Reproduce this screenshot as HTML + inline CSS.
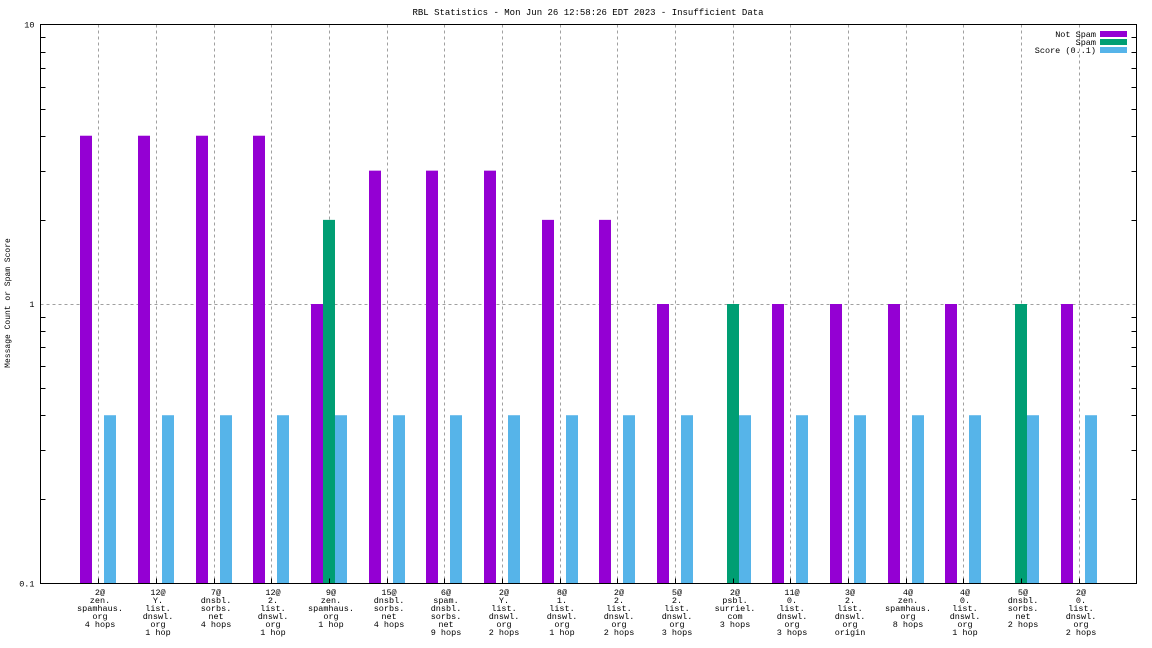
<!DOCTYPE html>
<html><head><meta charset="utf-8">
<style>
html,body{margin:0;padding:0;background:#fff;}
svg{display:block;font-family:"Liberation Mono",monospace;}
</style></head>
<body>
<svg id="chart" width="1152" height="648" xmlns="http://www.w3.org/2000/svg">
<text x="588" y="15" font-size="9" text-anchor="middle">RBL Statistics - Mon Jun 26 12:58:26 EDT 2023 - Insufficient Data</text>
<text transform="translate(10,303) rotate(-90)" font-size="8" text-anchor="middle">Message Count or Spam Score</text>
<g id="grid"></g>
<g id="bars"></g>
<g id="axes"></g>
<g id="xlabels" font-size="8.5" text-anchor="middle"></g>
<g id="legend" font-size="8.5" text-anchor="end">
<text x="1096" y="37">Not Spam</text>
<rect x="1100" y="31" width="27" height="6" fill="#9400d3"/>
<text x="1096" y="45">Spam</text>
<rect x="1100" y="39" width="27" height="6" fill="#009e73"/>
<text x="1096" y="53">Score (0..1)</text>
<rect x="1100" y="47" width="27" height="6" fill="#56b4e9"/>
</g>
</svg>
<script>
const categories = [
 ["2@","zen.","spamhaus.","org","4 hops"],
 ["12@","Y.","list.","dnswl.","org","1 hop"],
 ["7@","dnsbl.","sorbs.","net","4 hops"],
 ["12@","2.","list.","dnswl.","org","1 hop"],
 ["9@","zen.","spamhaus.","org","1 hop"],
 ["15@","dnsbl.","sorbs.","net","4 hops"],
 ["6@","spam.","dnsbl.","sorbs.","net","9 hops"],
 ["2@","Y.","list.","dnswl.","org","2 hops"],
 ["8@","1.","list.","dnswl.","org","1 hop"],
 ["2@","2.","list.","dnswl.","org","2 hops"],
 ["5@","2.","list.","dnswl.","org","3 hops"],
 ["2@","psbl.","surriel.","com","3 hops"],
 ["11@","0.","list.","dnswl.","org","3 hops"],
 ["3@","2.","list.","dnswl.","org","origin"],
 ["4@","zen.","spamhaus.","org","8 hops"],
 ["4@","0.","list.","dnswl.","org","1 hop"],
 ["5@","dnsbl.","sorbs.","net","2 hops"],
 ["2@","0.","list.","dnswl.","org","2 hops"]
];
const notSpam = [4,4,4,4,1,3,3,3,2,2,1,0,1,1,1,1,0,1];
const spam    = [0,0,0,0,2,0,0,0,0,0,0,1,0,0,0,0,1,0];
const score   = [0.4,0.4,0.4,0.4,0.4,0.4,0.4,0.4,0.4,0.4,0.4,0.4,0.4,0.4,0.4,0.4,0.4,0.4];
const yTicks = [0.1,1,10];
const yTickLabels = ["0.1","1","10"];

const NS="http://www.w3.org/2000/svg";
const L=40.5,R=1136.5,T=24.5,B=583.5;
const yMin=0.1,yMax=10;
function y(v){return B-(Math.log10(v)-Math.log10(yMin))/(Math.log10(yMax)-Math.log10(yMin))*(B-T);}
const step=(R-L)/(categories.length+1);
function x(i){return L+(i+1)*step;}
function mk(tag,attrs,parent){const e=document.createElementNS(NS,tag);for(const k in attrs)e.setAttribute(k,attrs[k]);parent.appendChild(e);return e;}
const grid=document.getElementById('grid'),bars=document.getElementById('bars'),axes=document.getElementById('axes'),xl=document.getElementById('xlabels');

categories.forEach((c,i)=>{
 const g=mk('line',{x1:Math.round(x(i))+0.5,x2:Math.round(x(i))+0.5,y1:T,y2:B,stroke:'#a0a0a0','stroke-dasharray':'3,3'},grid);
 
 
});
yTicks.forEach((v,k)=>{
 if(k>0&&k<yTicks.length-1){
  const g=mk('line',{x1:L,x2:R,y1:Math.round(y(v))+0.5,y2:Math.round(y(v))+0.5,stroke:'#a0a0a0','stroke-dasharray':'3,3'},grid);
  
  
 }
 const t=mk('text',{x:L-6,y:y(v)+3,'font-size':'8.5','text-anchor':'end'},axes);
 t.textContent=yTickLabels[k];
 
 
});
for(let d=0;d<yTicks.length-1;d++){
 for(let m=2;m<=9;m++){
  const v=yTicks[d]*m, yy=Math.round(y(v))+0.5;
  const a=mk('line',{x1:L,x2:L+5,y1:yy,y2:yy,stroke:'#000'},axes);
  
  
  const b=mk('line',{x1:R-5,x2:R,y1:yy,y2:yy,stroke:'#000'},axes);
  
  
 }
}
const bw=12;
const series=[[notSpam,'#9400d3',-18,'bar-not-spam'],[spam,'#009e73',-6,'bar-spam'],[score,'#56b4e9',6,'bar-score']];
categories.forEach((c,i)=>{
 series.forEach(s=>{
  const v=s[0][i]; if(!(v>yMin))return;
  const top=y(v);
  const r=mk('rect',{x:Math.round(x(i))+s[2],y:top,width:bw,height:B-top,fill:s[1]},bars);
  
  
 });
 const tk=mk('line',{x1:Math.round(x(i))+0.5,x2:Math.round(x(i))+0.5,y1:B-5,y2:B,stroke:'#000'},axes);
 
 
 const t=mk('text',{},xl);
 
 
 c.forEach((ln,j)=>{const s=mk('tspan',{x:Math.round(x(i))+2,y:595+j*8},t);s.textContent=ln;});
});
const fr=mk('rect',{x:L,y:T,width:R-L,height:B-T,fill:'none',stroke:'#000'},axes);


</script>
</body></html>
